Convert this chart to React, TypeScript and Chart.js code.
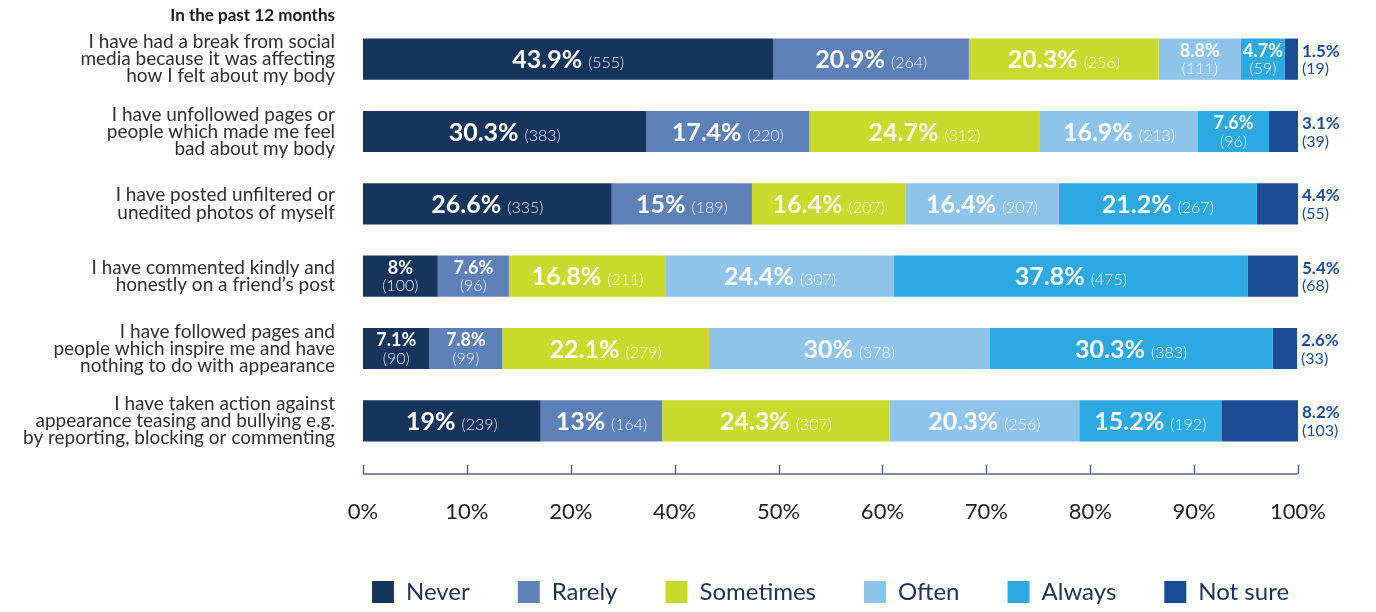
import { useEffect, useRef } from "react";
import { Chart, registerables } from "chart.js";

Chart.register(...registerables);

const FONT = "Lato, 'Open Sans', sans-serif";

const TITLE = "In the past 12 months";

const QUESTIONS = [
  ["I have had a break from social", "media because it was affecting", "how I felt about my body"],
  ["I have unfollowed pages or", "people which made me feel", "bad about my body"],
  ["I have posted unfiltered or", "unedited photos of myself"],
  ["I have commented kindly and", "honestly on a friend\u2019s post"],
  ["I have followed pages and", "people which inspire me and have", "nothing to do with appearance"],
  ["I have taken action against", "appearance teasing and bullying e.g.", "by reporting, blocking or commenting"],
];

const SERIES_NAMES = ["Never", "Rarely", "Sometimes", "Often", "Always", "Not sure"];
const SERIES_COLORS = ["#17355c", "#5d80b8", "#c8da2c", "#8ec4ea", "#2ca9e1", "#1c4c98"];

const NEVER = [43.9, 30.3, 26.6, 8, 7.1, 19];
const NEVER_N = [555, 383, 335, 100, 90, 239];
const RARELY = [20.9, 17.4, 15, 7.6, 7.8, 13];
const RARELY_N = [264, 220, 189, 96, 99, 164];
const SOMETIMES = [20.3, 24.7, 16.4, 16.8, 22.1, 24.3];
const SOMETIMES_N = [256, 312, 207, 211, 279, 307];
const OFTEN = [8.8, 16.9, 16.4, 24.4, 30, 20.3];
const OFTEN_N = [111, 213, 207, 307, 378, 256];
const ALWAYS = [4.7, 7.6, 21.2, 37.8, 30.3, 15.2];
const ALWAYS_N = [59, 96, 267, 475, 383, 192];
const NOT_SURE = [1.5, 3.1, 4.4, 5.4, 2.6, 8.2];
const NOT_SURE_N = [19, 39, 55, 68, 33, 103];

// Axis tick labels exactly as printed (the original axis skips "30%")
const AXIS_TICK_LABELS = ["0%", "10%", "20%", "40%", "50%", "60%", "70%", "80%", "90%", "100%"];

const SERIES_VALUES = [NEVER, RARELY, SOMETIMES, OFTEN, ALWAYS, NOT_SURE];
const SERIES_COUNTS = [NEVER_N, RARELY_N, SOMETIMES_N, OFTEN_N, ALWAYS_N, NOT_SURE_N];

const segLabelPlugin = {
  id: "segLabels",
  afterDatasetsDraw(chart: any) {
    const ctx = chart.ctx;
    const area = chart.chartArea;
    chart.data.datasets.forEach((ds: any, i: number) => {
      const meta = chart.getDatasetMeta(i);
      meta.data.forEach((el: any, j: number) => {
        const { x, base, y } = el.getProps(["x", "base", "y"], true);
        const v = ds.data[j];
        const pct = `${v}%`;
        const cnt = `(${ds.counts[j]})`;
        ctx.save();
        if (i === SERIES_NAMES.length - 1) {
          const lx = Math.min(x, area.right) + 4;
          ctx.textAlign = "left";
          ctx.textBaseline = "middle";
          ctx.fillStyle = "#1c4c98";
          ctx.font = `bold 17px ${FONT}`;
          ctx.fillText(pct, lx, y - 8);
          ctx.font = `16px ${FONT}`;
          ctx.fillText(cnt, lx, y + 10);
        } else if (v < 10) {
          const cx = (x + base) / 2;
          ctx.textAlign = "center";
          ctx.textBaseline = "middle";
          ctx.fillStyle = "#ffffff";
          ctx.font = `bold 18px ${FONT}`;
          ctx.fillText(pct, cx, y - 8);
          ctx.fillStyle = "rgba(255,255,255,0.88)";
          ctx.font = `300 16px ${FONT}`;
          ctx.fillText(cnt, cx, y + 10);
        } else {
          const cx = (x + base) / 2;
          ctx.textBaseline = "alphabetic";
          ctx.textAlign = "left";
          ctx.font = `bold 25px ${FONT}`;
          const w1 = ctx.measureText(pct).width;
          ctx.font = `300 16px ${FONT}`;
          const w2 = ctx.measureText(cnt).width;
          const gap = 6;
          const start = cx - (w1 + gap + w2) / 2;
          ctx.fillStyle = "#ffffff";
          ctx.font = `bold 25px ${FONT}`;
          ctx.fillText(pct, start, y + 9);
          ctx.fillStyle = "rgba(255,255,255,0.88)";
          ctx.font = `300 16px ${FONT}`;
          ctx.fillText(cnt, start + w1 + gap, y + 9);
        }
        ctx.restore();
      });
    });
  },
};

// Centre the (single-row) legend under the plotting area
const legendCenterPlugin = {
  id: "legendCenter",
  afterLayout(chart: any) {
    const lg = chart.legend;
    if (!lg || !lg.lineWidths) return;
    const area = chart.chartArea;
    const c = (area.left + area.right) / 2;
    const pad = lg.options.labels.padding;
    const half = lg.lineWidths[0] / 2 + pad;
    lg.left = c - half;
    lg.right = c + half;
    lg.width = 2 * half;
    lg.top += 2;
    lg.bottom += 2;
  },
};

const axisPlugin = {
  id: "axisDecor",
  afterDraw(chart: any) {
    const ctx = chart.ctx;
    const s = chart.scales.x2;
    const area = chart.chartArea;
    const yLine = area.bottom + 17;
    ctx.save();
    ctx.strokeStyle = "#56698a";
    ctx.lineWidth = 1.5;
    ctx.beginPath();
    ctx.moveTo(s.getPixelForValue(s.min), yLine);
    ctx.lineTo(s.getPixelForValue(s.max), yLine);
    s.ticks.forEach((t: any) => {
      const px = Math.round(s.getPixelForValue(t.value)) + 0.5;
      ctx.moveTo(px, yLine - 9);
      ctx.lineTo(px, yLine);
    });
    ctx.stroke();
    // title above the category labels
    const ys = chart.scales.y;
    ctx.fillStyle = "#1a1a1a";
    ctx.font = `bold 17px ${FONT}`;
    ctx.textAlign = "right";
    ctx.textBaseline = "middle";
    ctx.fillText(TITLE, ys.right - 28, 16);
    ctx.restore();
  },
};

export default function App() {
  const ref = useRef<HTMLCanvasElement | null>(null);

  useEffect(() => {
    document.body.style.margin = "0";
    if (!ref.current) return;
    const chart = new Chart(ref.current, {
      type: "bar",
      data: {
        labels: QUESTIONS,
        datasets: SERIES_NAMES.map((name, i) => ({
          label: name,
          data: SERIES_VALUES[i],
          counts: SERIES_COUNTS[i],
          backgroundColor: SERIES_COLORS[i],
          borderWidth: 0,
          barPercentage: 0.57,
          categoryPercentage: 1,
          xAxisID: "x",
        })) as any,
      },
      options: {
        indexAxis: "y",
        animation: false,
        responsive: true,
        maintainAspectRatio: false,
        layout: { padding: { top: 23, right: 78, left: 0, bottom: 0 } },
        scales: {
          x: { stacked: true, min: 0, max: 100, display: false },
          x2: {
            type: "linear",
            position: "bottom",
            min: 0,
            max: AXIS_TICK_LABELS.length - 1,
            grid: { display: false, drawTicks: false },
            border: { display: false },
            ticks: {
              stepSize: 1,
              autoSkip: false,
              maxRotation: 0,
              padding: 42,
              color: "#222222",
              font: { size: 22, family: FONT },
              callback: (v: any) => AXIS_TICK_LABELS[Number(v)] ?? "",
            },
            afterFit: (s: any) => {
              s.height = 73;
              s.paddingLeft = 0;
              s.paddingRight = 0;
            },
          },
          y: {
            stacked: true,
            grid: { display: false, drawTicks: false },
            border: { display: false },
            ticks: {
              padding: 28,
              color: "#2e2e2e",
              font: { size: 19, family: FONT, lineHeight: 0.9 },
            },
            afterFit: (s: any) => {
              s.width = 363;
              s.paddingTop = 0;
              s.paddingBottom = 0;
            },
          },
        } as any,
        plugins: {
          legend: {
            position: "bottom",
            fullSize: true,
            labels: {
              boxWidth: 22,
              boxHeight: 22,
              padding: 48,
              color: "#1b3257",
              font: { size: 24, family: FONT },
            },
          },
          tooltip: { enabled: false },
          title: { display: false },
        },
      },
      plugins: [segLabelPlugin, legendCenterPlugin, axisPlugin],
    });
    return () => chart.destroy();
  }, []);

  return (
    <div style={{ position: "relative", width: 1376, height: 612 }}>
      <canvas ref={ref} />
    </div>
  );
}
